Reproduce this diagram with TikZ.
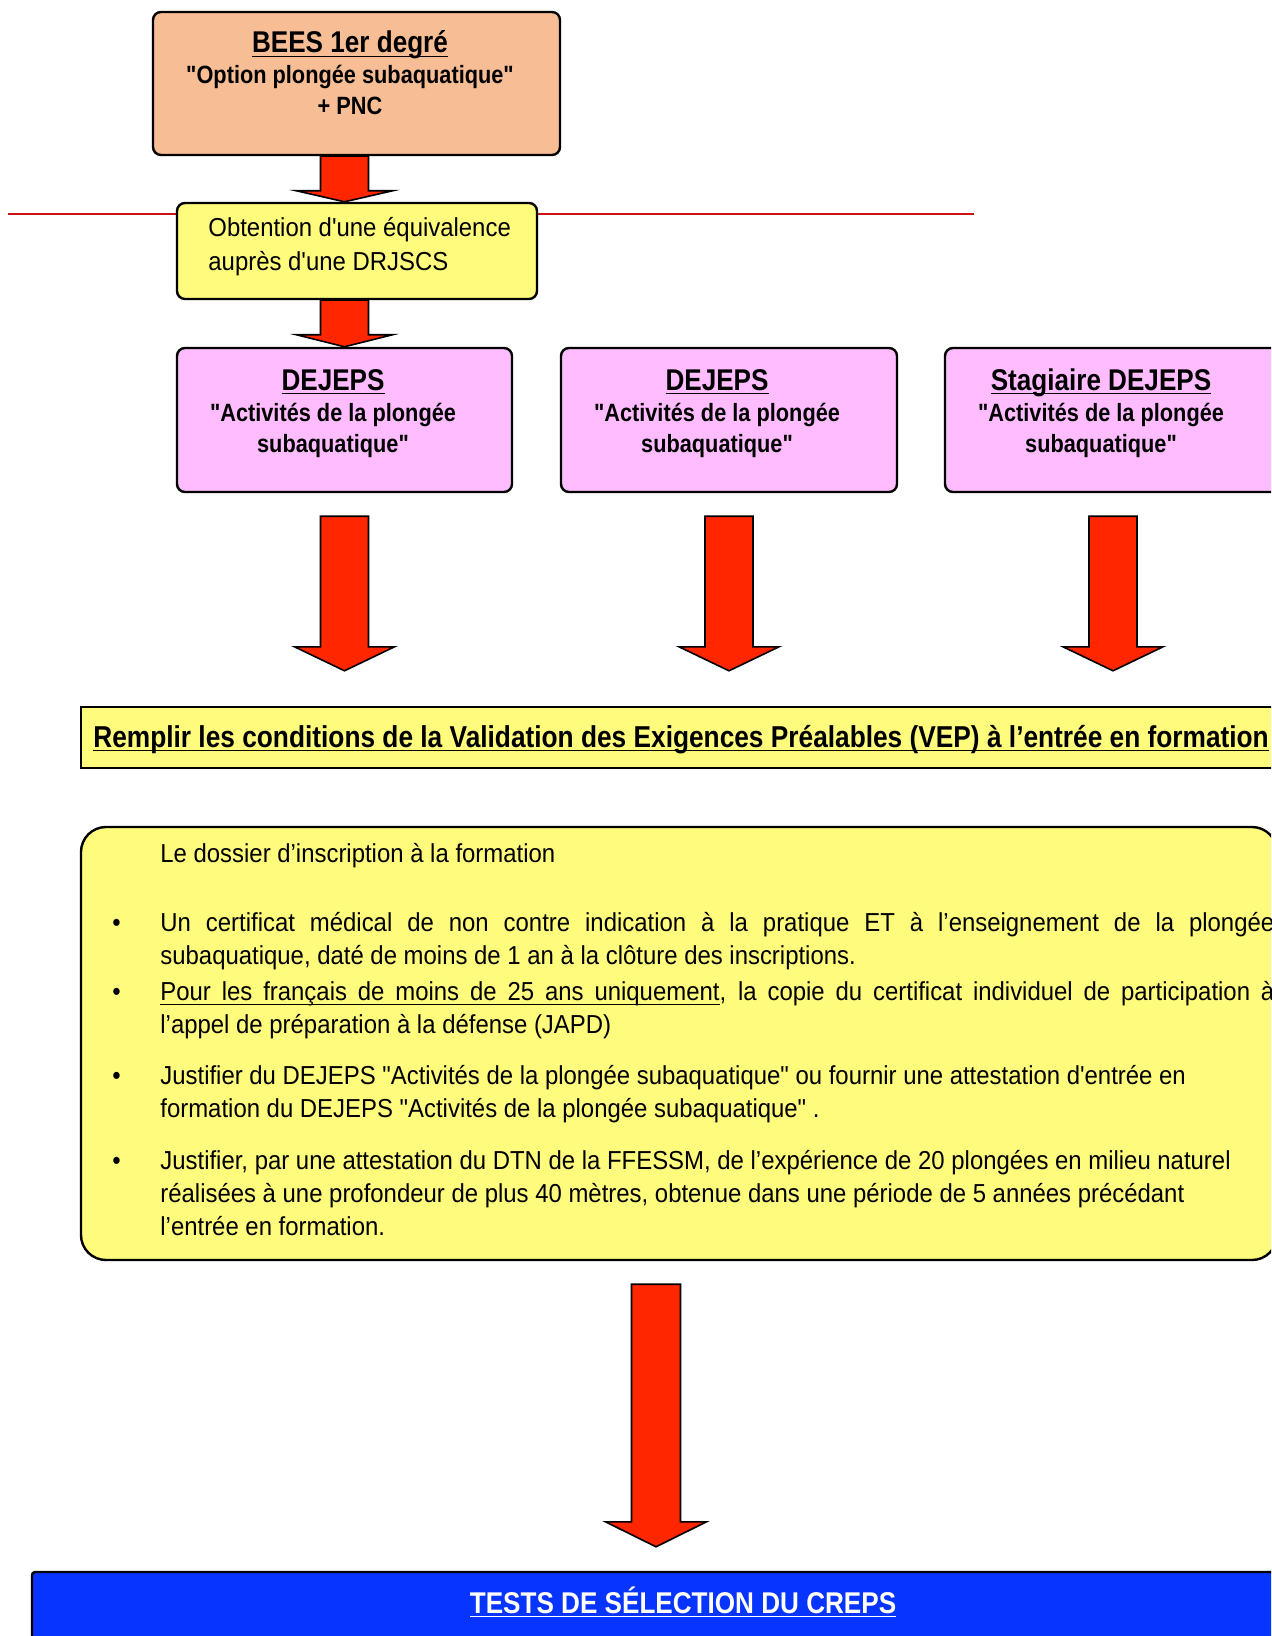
\documentclass[tikz,border=0pt]{standalone}
\usepackage{fontspec}
\usetikzlibrary{calc}
\newfontfamily\bodyfont{Liberation Sans}[FakeStretch=0.92]
\newfontfamily\headfont{Liberation Sans}[FakeStretch=0.87]
\definecolor{beespeach}{RGB}{247,190,150}
\definecolor{boxyellow}{RGB}{255,251,125}
\definecolor{boxpink}{RGB}{255,188,255}
\definecolor{arrowred}{RGB}{255,38,0}
\definecolor{testblue}{RGB}{8,52,255}
\definecolor{sepred}{RGB}{200,20,20}
\newcommand{\ulword}[1]{\leavevmode\setbox0\hbox{#1}\rlap{\rule[-2.2pt]{\wd0}{0.6pt}}\box0}
\newcommand{\ulgap}{\leaders\hrule height -1.6pt depth 2.2pt\hskip\fontdimen2\font plus\fontdimen3\font minus\fontdimen4\font}
\newcommand{\dossitem}[1]{\par\hangindent=24pt\hangafter=1\noindent\makebox[24pt][l]{•}#1\par}

\begin{document}
\begin{tikzpicture}[x=0.5pt,y=-0.5pt,
    box/.style={draw=black,line width=1.2pt,rounded corners=4pt,inner sep=0pt},
    blockarrow/.style={draw=black,line width=0.8pt,fill=arrowred,line join=miter},
    headtext/.style={font=\headfont\bfseries\fontsize{12.5}{15.5}\selectfont,align=center,anchor=base,inner sep=0pt}]
    \useasboundingbox (0,0) rectangle (1271,1636);
    \fill[white] (0,0) rectangle (1271,1636);
    \clip (0,0) rectangle (1271,1636);

    % Separator line
    \draw[sepred,line width=0.6pt] (8,214) -- (974,214);

    % BEES 1er degre
    \node[box,fill=beespeach,minimum width=203.5pt,minimum height=71.5pt] (bees) at (356.5,83.5) {};
    \node[headtext] (beestxt) at (350,115) {{\fontsize{15}{15.5}\selectfont\ulword{BEES 1er degré}}\\"Option plongée subaquatique"\\+ PNC};

    % Equivalence DRJSCS
    \node[box,fill=boxyellow,minimum width=180pt,minimum height=48pt] (obt) at (357,251) {};
    \node[anchor=base west,align=left,inner sep=0pt,font=\bodyfont\fontsize{13}{17}\selectfont] (obttxt) at (208,271) {Obtention d'une équivalence\\auprès d'une DRJSCS};

    % DEJEPS boxes
    \node[box,fill=boxpink,minimum width=167.5pt,minimum height=72pt] (dej1) at (344.5,420) {};
    \node[box,fill=boxpink,minimum width=168pt,minimum height=72pt] (dej2) at (729,420) {};
    \node[box,fill=boxpink,minimum width=168pt,minimum height=72pt] (dej3) at (1113,420) {};
    \node[headtext] (dej1txt) at (333,452) {{\fontsize{15}{15.5}\selectfont\ulword{DEJEPS}}\\"Activités de la plongée\\subaquatique"};
    \node[headtext] (dej2txt) at (717,452) {{\fontsize{15}{15.5}\selectfont\ulword{DEJEPS}}\\"Activités de la plongée\\subaquatique"};
    \node[headtext] (dej3txt) at (1101,452) {{\fontsize{15}{15.5}\selectfont\ulword{Stagiaire DEJEPS}}\\"Activités de la plongée\\subaquatique"};

    % VEP
    \node[box,rounded corners=0pt,fill=boxyellow,minimum width=609.5pt,minimum height=30.5pt] (vep) at (690.5,737.5) {};
    \node[anchor=base west,inner sep=0pt,font=\headfont\bfseries\fontsize{15.1}{15}\selectfont] (veptxt) at (93,747) {\ulword{Remplir les conditions de la Validation des Exigences Préalables (VEP) à l’entrée en formation}};

    % Dossier d'inscription
    \node[box,rounded corners=12.5pt,fill=boxyellow,minimum width=598pt,minimum height=216.5pt] (doss) at (679,1043.5) {};
    \node[anchor=north west,text width=581pt,inner sep=0pt,align=justify,font=\bodyfont\fontsize{13}{16.5}\selectfont] (dosstxt) at (112,843) {%
        \noindent\hspace*{24pt}Le dossier d’inscription à la formation\par
        \vspace{18pt}
        \dossitem{Un certificat médical de non contre indication à la pratique ET à l’enseignement de la plongée\linebreak subaquatique, daté de moins de 1 an à la clôture des inscriptions.}
        \vspace{1.6pt}
        \dossitem{\ulword{Pour}\ulgap\ulword{les}\ulgap\ulword{français}\ulgap\ulword{de}\ulgap\ulword{moins}\ulgap\ulword{de}\ulgap\ulword{25}\ulgap\ulword{ans}\ulgap\ulword{uniquement}, la copie du certificat individuel de participation à\linebreak l’appel de préparation à la défense (JAPD)}
        \vspace{9pt}
        \dossitem{Justifier du DEJEPS "Activités de la plongée subaquatique" ou fournir une attestation d'entrée en\newline formation du DEJEPS "Activités de la plongée subaquatique" .}
        \vspace{9.5pt}
        \dossitem{Justifier, par une attestation du DTN de la FFESSM, de l’expérience de 20 plongées en milieu naturel\newline réalisées à une profondeur de plus 40 mètres, obtenue dans une période de 5 années précédant\newline l’entrée en formation.}};

    % Tests de selection
    \node[box,rounded corners=1.5pt,fill=testblue,minimum width=634pt,minimum height=64pt] (tests) at (666,1636) {};
    \node[anchor=base,inner sep=0pt,text=white,font=\headfont\bfseries\fontsize{15}{15}\selectfont] (teststxt) at (683,1613) {\ulword{TESTS DE SÉLECTION DU CREPS}};

    % Short arrows
    \draw[blockarrow] ($(bees.south -| dej1)+(-24,0)$) -- ($(obt.north -| dej1)+(-24,-11)$) -- ++(-24,0) -- (obt.north -| dej1) -- ++(48,-11) -- ++(-24,0) -- ($(bees.south -| dej1)+(24,0)$) -- cycle;
    \draw[blockarrow] ($(obt.south -| dej1)+(-24,0)$) -- ($(dej1.north)+(-24,-12)$) -- ++(-24,0) -- (dej1.north) -- ++(48,-12) -- ++(-24,0) -- ($(obt.south -| dej1)+(24,0)$) -- cycle;

    % Long arrows to VEP
    \foreach \b in {dej1,dej2,dej3} {
        \draw[blockarrow] ($(\b.south)+(-24,23)$) -- ($(\b.south |- vep.north)+(-24,-59)$) -- ++(-26,0) -- ($(\b.south |- vep.north)+(0,-35)$) -- ++(50,-24) -- ++(-26,0) -- ($(\b.south)+(24,23)$) -- cycle;
    }

    % Arrow to tests
    \coordinate (a4top) at ($(doss.south)+(-23,23)$);
    \coordinate (a4tip) at ($(tests.north -| a4top)+(0,-24)$);
    \draw[blockarrow] ($(a4top)+(-24.5,0)$) -- ($(a4tip)+(-24.5,-25)$) -- ++(-26,0) -- (a4tip) -- ++(50.5,-25) -- ++(-26,0) -- ($(a4top)+(24.5,0)$) -- cycle;
\end{tikzpicture}
\end{document}
